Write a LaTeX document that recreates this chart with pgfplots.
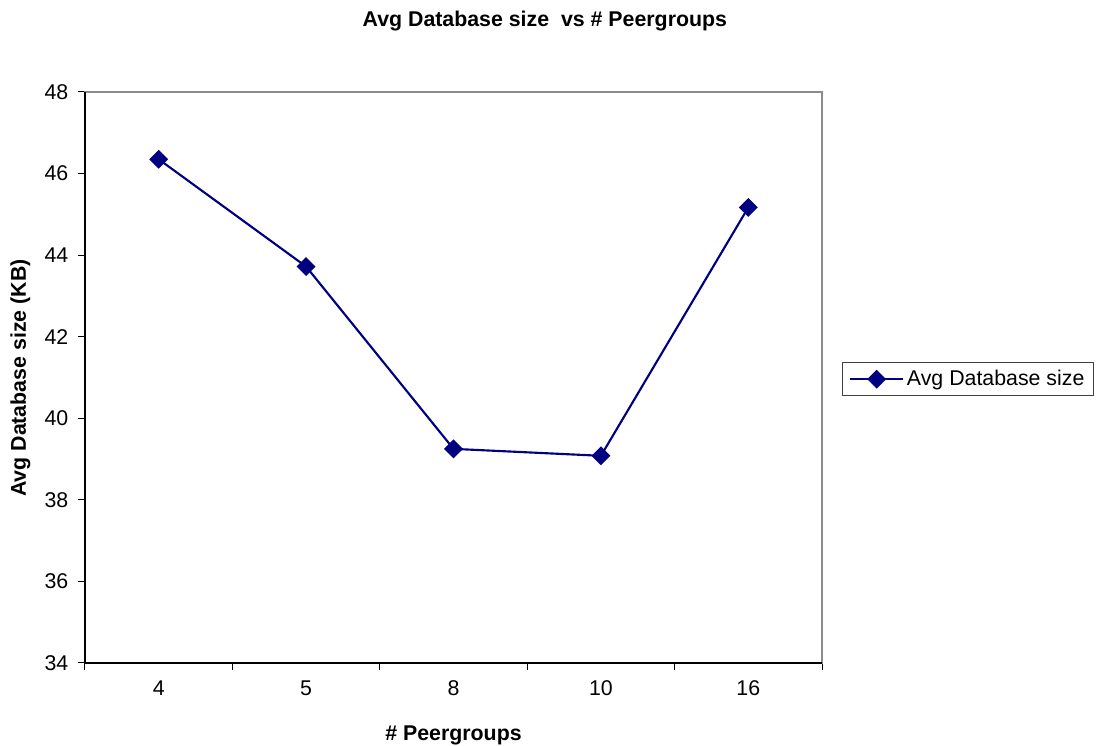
\documentclass[border=0pt]{standalone}
\usepackage{fontspec}
\setmainfont{Liberation Sans}
\usepackage{pgfplots}
\pgfplotsset{compat=1.18}
\definecolor{navyline}{RGB}{0,0,128}
\begin{document}
\fontsize{16}{19}\selectfont
\begin{tikzpicture}
\useasboundingbox (0,0) rectangle (825.75pt,559.5pt);
\begin{axis}[
  at={(63.75pt,62.25pt)}, anchor=south west,
  scale only axis, width=552.75pt, height=428.25pt,
  font=\fontsize{16}{19}\selectfont,
  /pgf/number format/assume math mode=true,
  xmin=-0.5, xmax=4.5, ymin=34, ymax=48,
  ytick={34,36,38,40,42,44,46,48},
  xtick={-0.5,0.5,1.5,2.5,3.5,4.5},
  xticklabels={4,5,8,10,16,{}},
  x tick label as interval,
  xtick pos=bottom, ytick pos=left,
  tick align=outside,
  major tick length=5pt,
  tick style={black, line width=0.75pt},
  yticklabel style={xshift=-2pt},
  xticklabel style={yshift=-3pt},
  axis line style={draw=gray!90, line width=0.9pt},
  title={Avg Database size\ \ vs \# Peergroups},
  title style={at={(axis description cs:0.624,1.110)}, anchor=center, font=\fontsize{16}{19}\selectfont\bfseries},
  xlabel={\# Peergroups},
  xlabel style={at={(axis description cs:0.5,-0.126)}, anchor=center, font=\fontsize{16}{19}\selectfont\bfseries},
  ylabel={Avg Database size (KB)},
  ylabel style={at={(axis description cs:-0.0875,0.499)}, anchor=center, font=\fontsize{16}{19}\selectfont\bfseries},
  legend style={at={(axis description cs:1.027,0.497)}, anchor=west, draw=black!75, line width=0.75pt,
    inner xsep=5pt, inner ysep=3.5pt, font=\fontsize{16}{19}\selectfont},
  legend image code/.code={\draw[mark repeat=2,mark phase=2] plot coordinates {(0cm,0cm)(0.7cm,0cm)(1.4cm,0cm)};},
  clip=false,
]
\draw[black, line width=0.9pt] (rel axis cs:0,1) -- (rel axis cs:0,0) -- (rel axis cs:1,0);
\addplot[color=navyline, line width=1.6pt, mark=square*, mark size=4.2pt, mark options={rotate=45, solid, fill=navyline}]
  coordinates {(0,46.35) (1,43.72) (2,39.25) (3,39.08) (4,45.17)};
\addlegendentry{Avg Database size}
\end{axis}
\end{tikzpicture}
\end{document}
